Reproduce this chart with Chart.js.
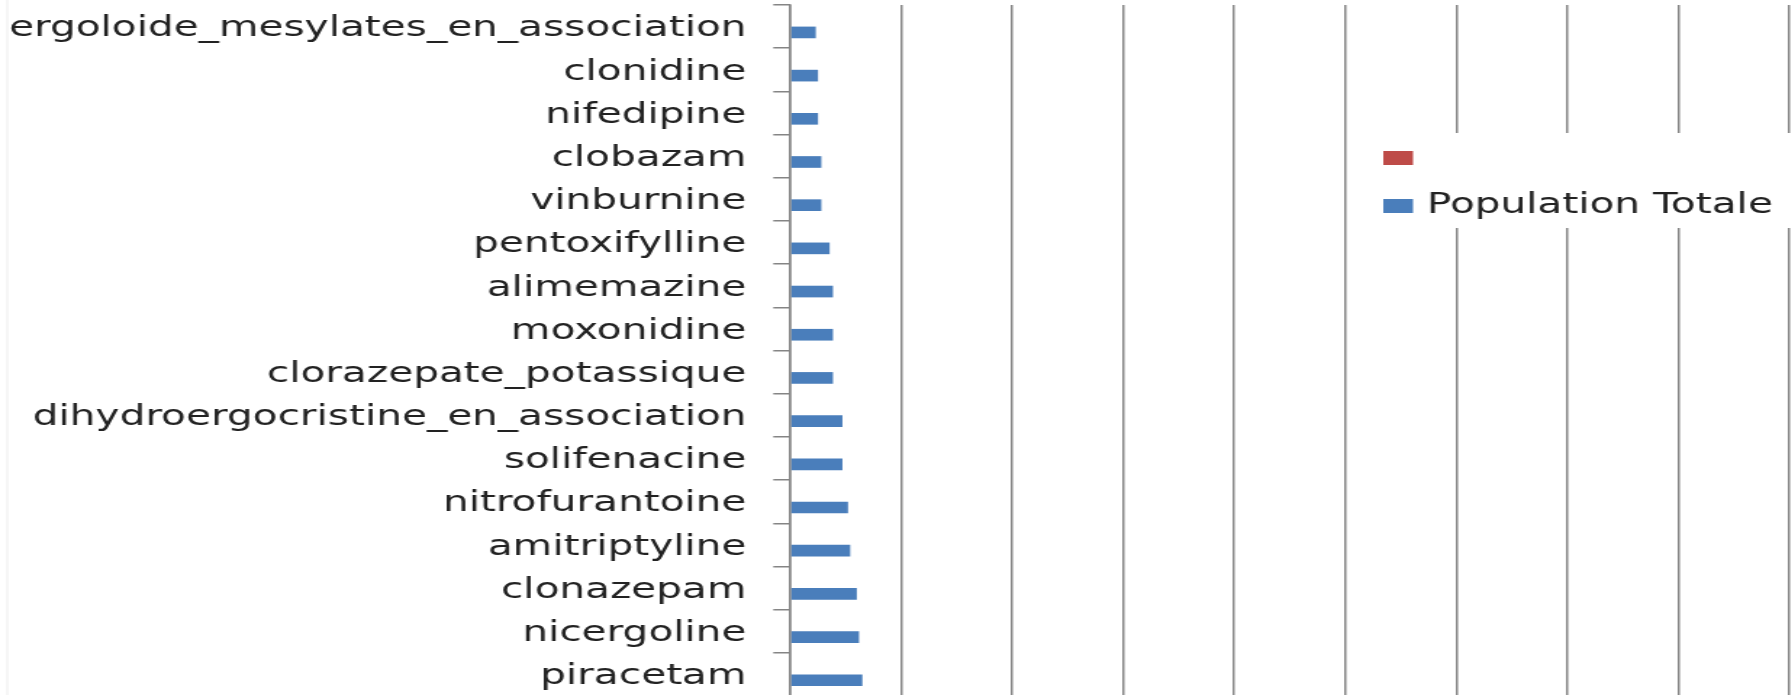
<!DOCTYPE html>
<html>
<head>
<meta charset="utf-8">
<script src="https://cdn.jsdelivr.net/npm/chart.js@4/dist/chart.umd.min.js"></script>
<style>
  html, body { margin: 0; padding: 0; background: #fff; overflow: hidden; }
  /* chart is laid out narrow, then stretched to the full width */
  #wrap {
    width: 1236px;
    height: 695px;
    overflow: hidden;
    transform: scaleX(1.45);
    transform-origin: 0 0;
  }
  #chart { display: block; }
</style>
</head>
<body>
<div id="wrap"><canvas id="chart" width="1236" height="700"></canvas></div>
<script>
// ---------------------------------------------------------
// Data
// ---------------------------------------------------------
const categories = [
  'ergoloide_mesylates_en_association',
  'clonidine',
  'nifedipine',
  'clobazam',
  'vinburnine',
  'pentoxifylline',
  'alimemazine',
  'moxonidine',
  'clorazepate_potassique',
  'dihydroergocristine_en_association',
  'solifenacine',
  'nitrofurantoine',
  'amitriptyline',
  'clonazepam',
  'nicergoline',
  'piracetam',
];

// second series has no values
const otherValues = [null, null, null, null, null, null, null, null,
                     null, null, null, null, null, null, null, null];

const populationTotale = [0.23, 0.25, 0.25, 0.28, 0.28, 0.355, 0.385, 0.385,
                          0.385, 0.47, 0.47, 0.52, 0.54, 0.60, 0.62, 0.65];

const X_MIN = 0;
const X_MAX = 9;
const X_STEP = 1;

// ---------------------------------------------------------
// Theme
// ---------------------------------------------------------
const BLUE = '#4a7ebb';
const RED = '#be4b48';
const AXIS_GRAY = '#858585';
const TEXT_COLOR = '#222';
const FONT_FAMILY = '"DejaVu Sans", Verdana, sans-serif';
const FONT_SIZE = 28;

// Faint outer frame line on the left
const frameLine = {
  id: 'frameLine',
  beforeDraw(chart) {
    const ctx = chart.ctx;
    ctx.save();
    ctx.strokeStyle = '#ececec';
    ctx.lineWidth = 1;
    ctx.beginPath();
    ctx.moveTo(5, 0);
    ctx.lineTo(5, chart.height);
    ctx.stroke();
    ctx.restore();
  },
};

// Legend drawn over the plot, with a white backing box
const legendBox = {
  id: 'legendBox',
  afterDraw(chart) {
    const ctx = chart.ctx;
    const left = 931, top = 133;
    ctx.save();
    ctx.fillStyle = '#fff';
    ctx.fillRect(left, top, chart.width - left, 95);
    ctx.font = FONT_SIZE + 'px ' + FONT_FAMILY;
    ctx.textBaseline = 'middle';
    chart.data.datasets.forEach((ds, i) => {
      const y = top + 18 + i * 48;
      ctx.fillStyle = ds.backgroundColor;
      ctx.fillRect(left + 23, y, 20.5, 14);
      ctx.fillStyle = TEXT_COLOR;
      ctx.fillText(ds.label, left + 53, y + 7);
    });
    ctx.restore();
  },
};

const ctx = document.getElementById('chart').getContext('2d');

new Chart(ctx, {
  type: 'bar',
  data: {
    labels: categories,
    datasets: [
      {
        label: '',
        data: otherValues,
        backgroundColor: RED,
        borderWidth: 0,
        categoryPercentage: 0.54,
        barPercentage: 1.0,
      },
      {
        label: 'Population Totale',
        data: populationTotale,
        backgroundColor: BLUE,
        borderWidth: 0,
        categoryPercentage: 0.54,
        barPercentage: 1.0,
      },
    ],
  },
  options: {
    indexAxis: 'y',
    responsive: false,
    animation: false,
    layout: { padding: { top: 5, right: 2, bottom: 4, left: 0 } },
    plugins: {
      legend: { display: false },
      tooltip: { enabled: false },
    },
    scales: {
      x: {
        min: X_MIN,
        max: X_MAX,
        ticks: { display: false, stepSize: X_STEP },
        grid: { color: AXIS_GRAY, lineWidth: 1.5, drawTicks: false },
        border: { display: false },
      },
      y: {
        afterFit: (scale) => {
          // fixed label column, no extra room above/below the categories
          scale.width = 545;
          scale.paddingTop = 0;
          scale.paddingBottom = 0;
        },
        ticks: {
          color: TEXT_COLOR,
          padding: 18.5,
          labelOffset: 2.5,
          autoSkip: false,
          font: { family: FONT_FAMILY, size: FONT_SIZE },
        },
        grid: {
          color: AXIS_GRAY,
          lineWidth: 1.5,
          drawOnChartArea: false,
          drawTicks: true,
          tickLength: 11.7,
        },
        border: { display: true, color: AXIS_GRAY, width: 1.5 },
      },
    },
  },
  plugins: [frameLine, legendBox],
});
</script>
</body>
</html>
